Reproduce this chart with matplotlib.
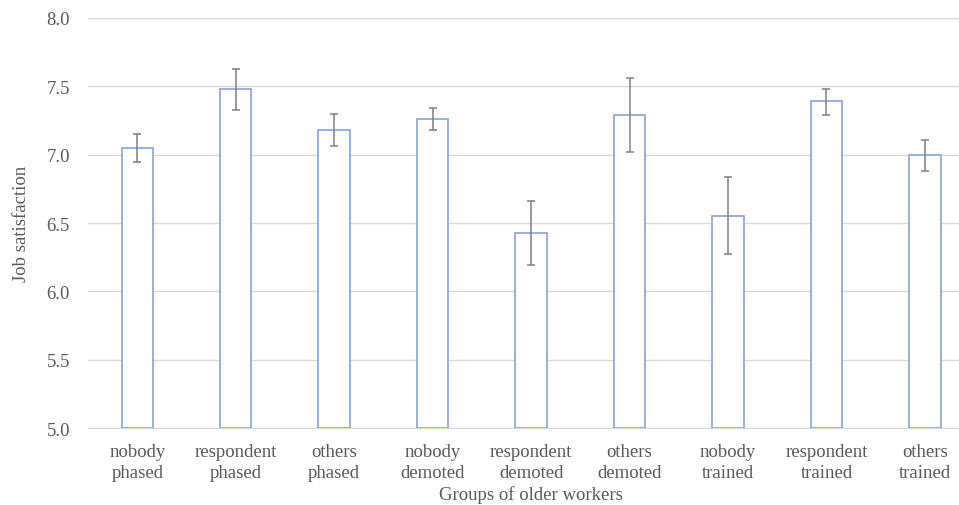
import matplotlib.pyplot as plt
import numpy as np

groups = ["nobody\nphased", "respondent\nphased", "others\nphased",
          "nobody\ndemoted", "respondent\ndemoted", "others\ndemoted",
          "nobody\ntrained", "respondent\ntrained", "others\ntrained"]
means = [7.05, 7.48, 7.18, 7.26, 6.43, 7.29, 6.55, 7.39, 7.00]
err_low = [6.95, 7.33, 7.06, 7.18, 6.19, 7.02, 6.27, 7.29, 6.88]
err_high = [7.15, 7.63, 7.30, 7.34, 6.66, 7.56, 6.84, 7.48, 7.11]

plt.rcParams['font.family'] = ['Liberation Serif', 'DejaVu Serif']
text_col = '#595959'

fig = plt.figure(figsize=(9.59, 5.06), dpi=100)
ax = fig.add_axes([0.0918, 0.152, 0.924, 0.8105])

x = np.arange(len(groups))
yerr = [np.array(means) - np.array(err_low), np.array(err_high) - np.array(means)]
ax.bar(x, np.array(means) - 5.0, bottom=5.0, width=0.32, facecolor='white',
       edgecolor='#8FAADC', linewidth=1.3, zorder=3)
ax.errorbar(x, means, yerr=yerr, fmt='none', ecolor='#7F7F7F', elinewidth=1.1,
            capsize=3, capthick=1.1, zorder=4)

ax.set_xlim(-0.5, 8.5)
ax.set_ylim(5.0, 8.0)
ax.set_yticks([5.0, 5.5, 6.0, 6.5, 7.0, 7.5, 8.0])
ax.set_yticklabels(["5.0", "5.5", "6.0", "6.5", "7.0", "7.5", "8.0"])
ax.set_xticks(x)
ax.set_xticklabels(groups, linespacing=1.25)
ax.tick_params(axis='both', length=0, labelsize=13.5, colors=text_col)
ax.tick_params(axis='y', pad=13)
ax.tick_params(axis='x', pad=11)

ax.grid(axis='y', color='#D9D9D9', linewidth=1)
ax.set_axisbelow(True)
for s in ['top', 'right', 'left']:
    ax.spines[s].set_visible(False)
ax.spines['bottom'].set_color('#D9D9D9')

ax.set_xlabel('Groups of older workers', fontsize=13.5, color=text_col, labelpad=3)
ax.set_ylabel('Job satisfaction', fontsize=13.5, color=text_col, labelpad=12)

fig.savefig('out.png', dpi=100)
